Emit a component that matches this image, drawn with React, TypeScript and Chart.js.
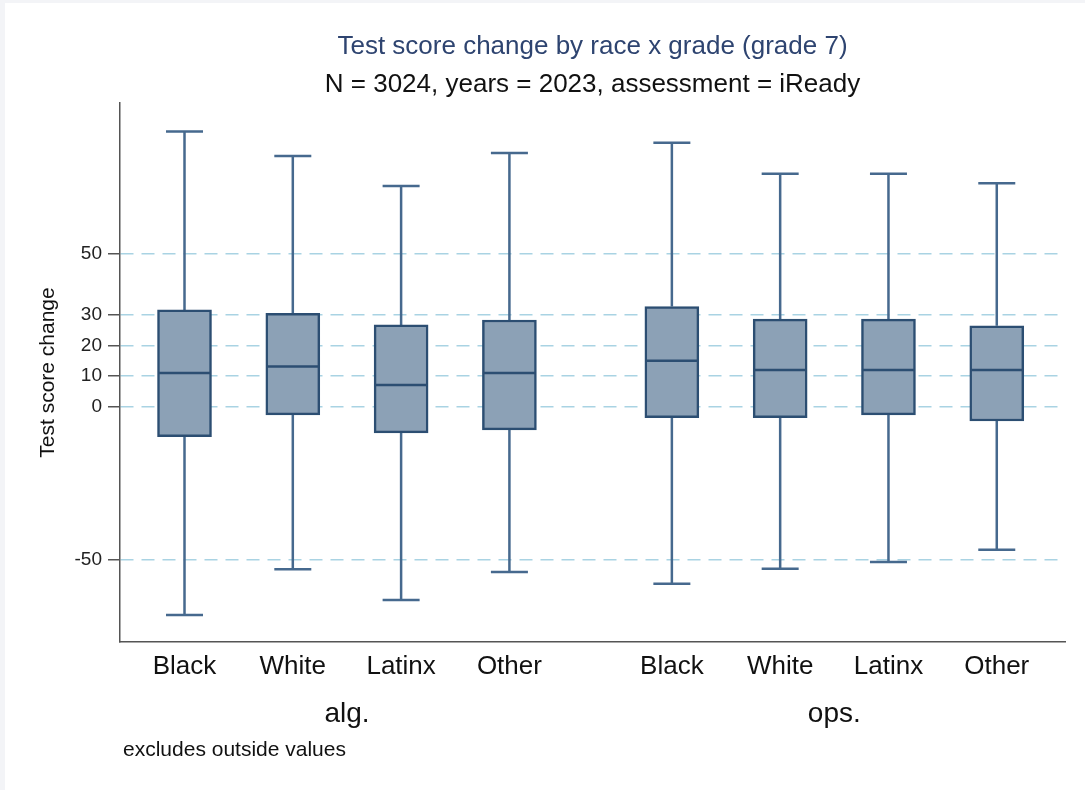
import React, { useEffect, useRef } from "react";
import { Chart, registerables } from "chart.js";

Chart.register(...registerables);

// Race categories, repeated for each test group
const races = ["Black", "White", "Latinx", "Other"];
const groups = ["alg.", "ops."];

// Box plot statistics (test score change), alg. group first then ops.
const whiskerLow = [-68.1, -53.1, -63.2, -54.0, -57.9, -53.0, -50.8, -46.8];
const quartile1 = [-9.8, -2.7, -8.6, -7.6, -3.6, -3.6, -2.7, -4.7];
const medians = [11.0, 13.1, 7.1, 11.0, 15.0, 12.0, 12.0, 12.0];
const quartile3 = [31.6, 30.5, 26.7, 28.3, 32.7, 28.6, 28.6, 26.4];
const whiskerHigh = [89.9, 81.9, 72.1, 82.9, 86.2, 76.1, 76.1, 73.0];

const yTickValues = [-50, 0, 10, 20, 30, 50];

const titleText = "Test score change by race x grade (grade 7)";
const subtitleText = "N = 3024, years = 2023, assessment = iReady";
const yAxisTitle = "Test score change";
const noteText = "excludes outside values";

const FONT = "'Liberation Sans', Arial, Helvetica, sans-serif";
const BOX_FILL = "#8ca1b6";
const BOX_EDGE = "#2c4e72";
const WHISKER = "#46698e";

// x position of each box: four per group, with a wider gap between groups
const xPositions: number[] = [];
const xLabels: string[] = [];
groups.forEach((_, g) => {
  races.forEach((r, i) => {
    xPositions.push(1 + i + g * 4.5);
    xLabels.push(r);
  });
});

const boxPlotPlugin = {
  id: "boxPlotParts",
  beforeDatasetsDraw(chart: any) {
    const { ctx, scales } = chart;
    const xs = scales.x;
    const ys = scales.y;
    ctx.save();
    ctx.strokeStyle = WHISKER;
    ctx.lineWidth = 2.5;
    ctx.lineCap = "butt";
    xPositions.forEach((p, i) => {
      const cx = xs.getPixelForValue(p);
      const capHalf = 18.5;
      const yHi = ys.getPixelForValue(whiskerHigh[i]);
      const yQ3 = ys.getPixelForValue(quartile3[i]);
      const yQ1 = ys.getPixelForValue(quartile1[i]);
      const yLo = ys.getPixelForValue(whiskerLow[i]);
      ctx.beginPath();
      ctx.moveTo(cx, yHi);
      ctx.lineTo(cx, yQ3);
      ctx.moveTo(cx, yQ1);
      ctx.lineTo(cx, yLo);
      ctx.moveTo(cx - capHalf, yHi);
      ctx.lineTo(cx + capHalf, yHi);
      ctx.moveTo(cx - capHalf, yLo);
      ctx.lineTo(cx + capHalf, yLo);
      ctx.stroke();
    });
    ctx.restore();
  },
  afterDatasetsDraw(chart: any) {
    const { ctx, scales } = chart;
    const xs = scales.x;
    const ys = scales.y;
    ctx.save();
    ctx.strokeStyle = BOX_EDGE;
    ctx.lineWidth = 2.5;
    xPositions.forEach((p, i) => {
      const cx = xs.getPixelForValue(p);
      const ym = ys.getPixelForValue(medians[i]);
      ctx.beginPath();
      ctx.moveTo(cx - 26.5, ym);
      ctx.lineTo(cx + 26.5, ym);
      ctx.stroke();
    });
    ctx.restore();
  },
  afterDraw(chart: any) {
    const { ctx, scales, chartArea } = chart;
    const xs = scales.x;
    ctx.save();
    ctx.fillStyle = "#111";
    ctx.textAlign = "center";
    ctx.textBaseline = "middle";
    ctx.font = `28px ${FONT}`;
    groups.forEach((g, gi) => {
      const ps = xPositions.slice(gi * races.length, (gi + 1) * races.length);
      const mid = (ps[0] + ps[ps.length - 1]) / 2;
      ctx.fillText(g, xs.getPixelForValue(mid), chartArea.bottom + 72);
    });
    ctx.textAlign = "left";
    ctx.font = `21px ${FONT}`;
    ctx.fillText(noteText, 123, chartArea.bottom + 108);
    ctx.restore();
  },
};

export default function App() {
  const canvasRef = useRef<HTMLCanvasElement | null>(null);

  useEffect(() => {
    if (!canvasRef.current) return;
    const chart = new Chart(canvasRef.current, {
      type: "bar",
      data: {
        datasets: [
          {
            label: "IQR",
            data: xPositions.map((p, i) => ({ x: p, y: [quartile1[i], quartile3[i]] })) as any,
            backgroundColor: BOX_FILL,
            borderColor: BOX_EDGE,
            borderWidth: 2.5,
            borderSkipped: false,
            barThickness: 54,
          },
        ],
      },
      options: {
        responsive: false,
        animation: false,
        layout: { padding: { left: 0, right: 20, top: 0, bottom: 0 } },
        plugins: {
          legend: { display: false },
          tooltip: { enabled: false },
          title: {
            display: true,
            fullSize: false,
            text: titleText,
            color: "#2e4470",
            font: { family: FONT, size: 26, weight: "normal", lineHeight: 1.2 },
            padding: { top: 31.4, bottom: 6.8 },
          },
          subtitle: {
            display: true,
            fullSize: false,
            text: subtitleText,
            color: "#111",
            font: { family: FONT, size: 26, weight: "normal", lineHeight: 1.2 },
            padding: { top: 0, bottom: 2.4 },
          },
        },
        scales: {
          x: {
            type: "linear",
            offset: false,
            min: 0.4044,
            max: 9.13,
            afterBuildTicks: (scale: any) => {
              scale.ticks = xPositions.map((v) => ({ value: v }));
            },
            afterFit: (scale: any) => {
              scale.height = 148;
            },
            grid: { display: false, drawTicks: false, offset: false },
            border: { display: true, color: "#555", width: 1.5 },
            ticks: {
              autoSkip: false,
              maxRotation: 0,
              padding: 9.4,
              color: "#111",
              font: { family: FONT, size: 26 },
              callback: (_v: any, i: number) => xLabels[i],
            },
          },
          y: {
            type: "linear",
            min: -76.9,
            max: 99.2,
            afterBuildTicks: (scale: any) => {
              scale.ticks = yTickValues.map((v) => ({ value: v }));
            },
            afterFit: (scale: any) => {
              scale.width = 120;
            },
            grid: {
              color: "#a9d3e3",
              lineWidth: 1.5,
              drawTicks: true,
              tickLength: 12,
              tickColor: "#555",
              tickWidth: 1.5,
              tickBorderDash: [],
            },
            border: { display: true, color: "#555", width: 1.5, dash: [13, 8] },
            ticks: {
              padding: 6,
              color: "#222",
              font: { family: FONT, size: 19 },
              callback: (v: any) => String(v),
            },
            title: {
              display: true,
              text: yAxisTitle,
              color: "#111",
              font: { family: FONT, size: 21 },
              padding: { top: 36, bottom: 0 },
            },
          },
        },
      },
      plugins: [boxPlotPlugin],
    });
    return () => chart.destroy();
  }, []);

  return (
    <div
      style={{
        position: "fixed",
        left: 0,
        top: 0,
        width: 1085,
        height: 790,
        background: "#f3f4f7",
      }}
    >
      <div
        style={{
          position: "absolute",
          left: 5,
          top: 3,
          right: 0,
          bottom: 0,
          background: "#ffffff",
        }}
      />
      <canvas
        ref={canvasRef}
        width={1085}
        height={790}
        style={{ position: "absolute", left: 0, top: 0 }}
      />
    </div>
  );
}
